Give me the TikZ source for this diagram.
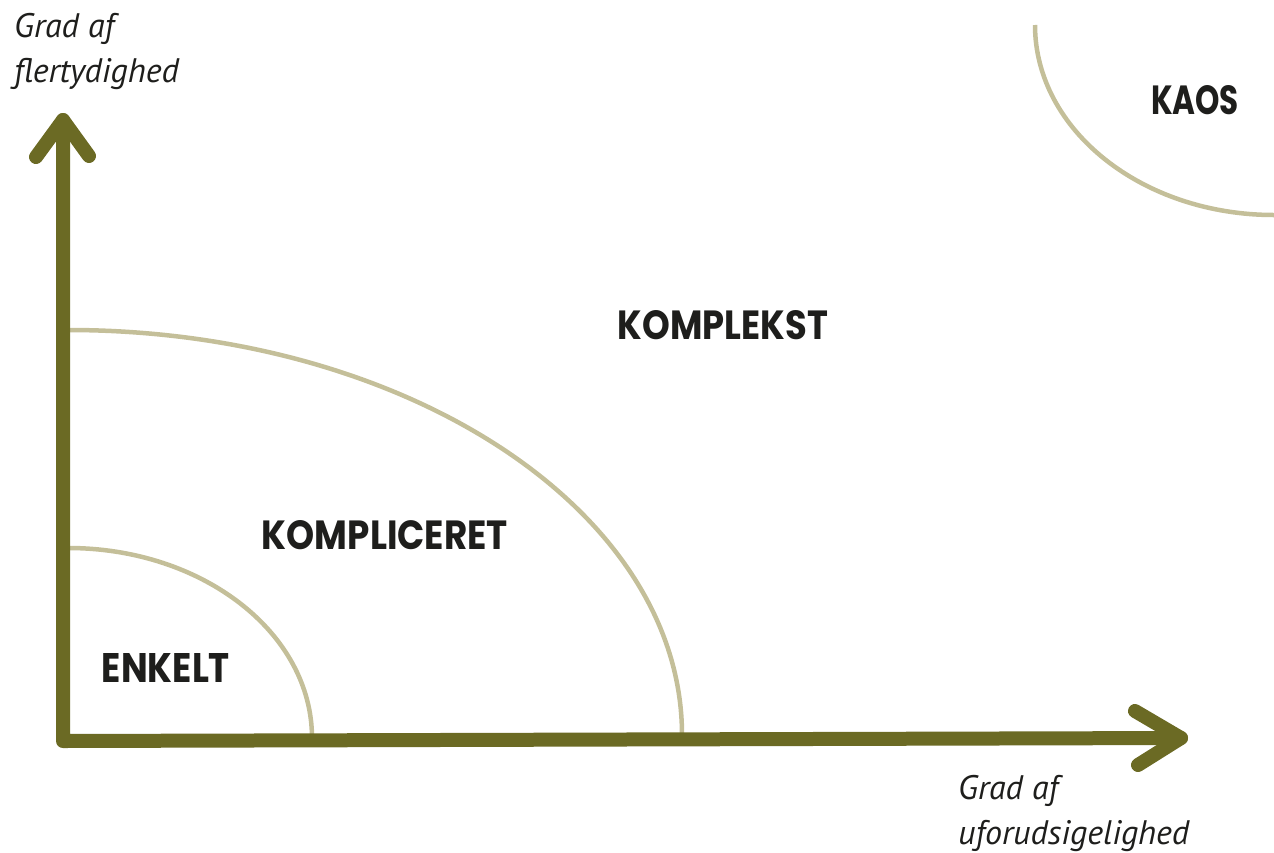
\documentclass[tikz,border=0pt]{standalone}
\usepackage{fontspec}
\setmainfont{PT Sans}
\newfontfamily\handfont{Poppins}
\usepackage{graphicx}
\definecolor{axisol}{HTML}{6B6A24}
\definecolor{arcbeige}{HTML}{C4BF99}
\definecolor{inkdark}{HTML}{1E1E1C}
\begin{document}
\begin{tikzpicture}[x=1pt,y=-1pt,
  axisline/.style={draw=axisol,line width=14pt,line cap=round,line join=round},
  zonearc/.style={draw=arcbeige,line width=4.5pt},
  axislabel/.style={font=\itshape\fontsize{34}{45}\selectfont,text=inkdark,align=left,anchor=north west,inner sep=0pt},
  zonelabel/.style={text=inkdark,inner sep=0pt}]
\useasboundingbox (0,0) rectangle (1274,852);
% coordinates
\coordinate (origin) at (63,741);
\coordinate (ytip) at (63,120);
\coordinate (xtip) at (1181,738);
% arcs
\draw[zonearc] (68,548) arc[start angle=90,end angle=0,x radius=244,y radius=-190];
\draw[zonearc] (68,330) arc[start angle=90,end angle=0,x radius=614,y radius=-405];
\draw[zonearc] (1035,25) arc[start angle=180,end angle=270,x radius=239,y radius=-190];
% axes
\draw[axisline] (ytip) -- (origin) -- (xtip);
\draw[axisline] (36,157) -- (ytip) -- (89,156);
\draw[axisline] (1135,711) -- (xtip) -- (1138,765);
% labels
\node[axislabel] (ylab) at (14,13) {Grad af\\flertydighed};
\node[axislabel] (xlab) at (958,775) {Grad af\\uforudsigelighed};
\node[zonelabel] (kaos) at (1195,100) {\resizebox{88pt}{29pt}{\handfont\bfseries KAOS}};
\node[zonelabel] (komplekst) at (723,325) {\resizebox{210pt}{29pt}{\handfont\bfseries KOMPLEKST}};
\node[zonelabel] (kompliceret) at (385,535) {\resizebox{246pt}{29pt}{\handfont\bfseries KOMPLICERET}};
\node[zonelabel] (enkelt) at (166,668) {\resizebox{128pt}{29pt}{\handfont\bfseries ENKELT}};
\end{tikzpicture}
\end{document}
